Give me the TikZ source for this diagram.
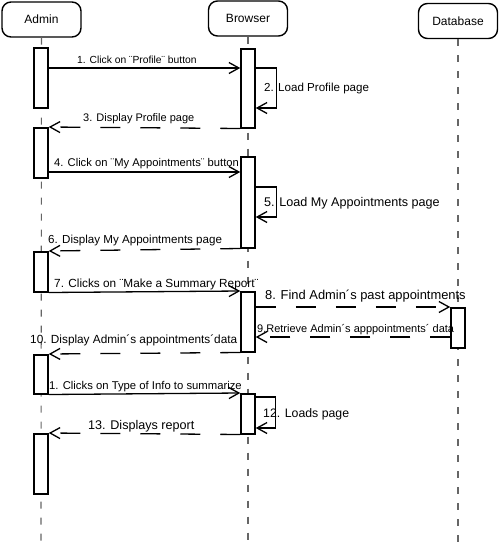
\documentclass[tikz,border=0pt]{standalone}
\usepackage{fontspec}
\setmainfont{Liberation Sans}
\usetikzlibrary{arrows.meta}
\newcommand\fsz[1]{\fontsize{#1}{#1}\selectfont}
\begin{document}
\begin{tikzpicture}[x=1pt,y=-1pt,
  actor/.style={draw, line width=1.4pt, rounded corners=9pt, minimum width=79pt, minimum height=35pt, inner sep=0pt, font=\fsz{12}},
  life/.style={draw=black!60, line width=1.1pt, dash pattern=on 7pt off 9pt},
  act/.style={draw, line width=1.5pt, fill=white, minimum width=14pt, inner sep=0pt, anchor=north},
  msg/.style={line width=1.3pt, -{Straight Barb[length=10pt,width=11pt,line width=1.3pt]}},
  ret/.style={msg, dash pattern=on 20pt off 20pt},
  lbl/.style={anchor=base west, inner sep=0pt}]
\useasboundingbox (0,0) rectangle (500,557);
% actors
\node[actor] (admin) at (41.5,19.5) {Admin};
\node[actor] (browser) at (248,18.5) {Browser};
\node[actor] (db) at (458,21) {Database};
% lifelines
\coordinate (adminEnd) at (41,549);
\coordinate (browserEnd) at (248,546);
\coordinate (dbEnd) at (458,543);
\draw[life] (admin.south) -- (adminEnd);
\draw[life] (browser.south) -- (browserEnd);
\draw[life] (db.south) -- (dbEnd);
% activations
\node[act, minimum height=60pt] (a1) at (41,47) {};
\node[act, minimum height=50pt] (a2) at (41,127) {};
\node[act, minimum height=40pt] (a3) at (41,251) {};
\node[act, minimum height=39pt] (a4) at (41,354) {};
\node[act, minimum height=60pt] (a5) at (41,433) {};
\node[act, minimum height=79pt] (b1) at (248,48) {};
\node[act, minimum height=91pt] (b2) at (248,156) {};
\node[act, minimum height=60pt] (b3) at (248,291) {};
\node[act, minimum height=40pt] (b4) at (248,393) {};
\node[act, minimum height=40pt] (d1) at (458,307) {};
% messages
\draw[msg] (a1.east |- 0,68) -- (b1.west |- 0,68);
\node[lbl, font=\fsz{10.3}] (l1) at (77,63) {1. Click on ¨Profile¨ button};
\draw[msg] (b1.east |- 0,68) -- ++(21,0) -- ++(0,40) -- (b1.east |- 0,108);
\node[lbl, font=\fsz{11.6}] (l2) at (264,91) {2. Load Profile page};
\draw[ret] (b1.south west) -- (a2.north east);
\node[lbl, font=\fsz{11}] (l3) at (83,121) {3. Display Profile page};
\draw[msg] (a2.east |- 0,172) -- (b2.west |- 0,172);
\node[lbl, font=\fsz{11.2}] (l4) at (54,166) {4. Click on ¨My Appointments¨ button};
\draw[msg] (b2.east |- 0,187) -- ++(21,0) -- ++(0,30) -- (b2.east |- 0,217);
\node[lbl, font=\fsz{12.6}] (l5) at (264,206) {5. Load My Appointments page};
\draw[ret] (b2.south west) -- (a3.north east);
\node[lbl, font=\fsz{11.6}] (l6) at (48,243) {6. Display My Appointments page};
\draw[msg] (a3.south east) -- (b3.north west);
\node[lbl, font=\fsz{11.8}] (l7) at (54,287) {7. Clicks on ¨Make a Summary Report¨};
\draw[ret] (b3.east |- 0,307) -- (d1.north west);
\node[lbl, font=\fsz{12.9}] (l8) at (265,299) {8. Find Admin´s past appointments};
\draw[ret] (d1.west |- 0,337) -- (b3.east |- 0,337);
\node[lbl, font=\fsz{11}] (l9) at (257,332) {9.Retrieve Admin´s apppointments´ data};
\draw[ret] (b3.south west) -- (a4.north east);
\node[lbl, font=\fsz{11.8}] (l10) at (30,343) {10. Display Admin´s appointments´data};
\draw[msg] (a4.south east) -- (b4.north west);
\node[lbl, font=\fsz{11.3}] (l11) at (49,389) {1. Clicks on Type of Info to summarize};
\draw[msg] (b4.east |- 0,397) -- ++(20,0) -- ++(0,31) -- (b4.east |- 0,428);
\node[lbl, font=\fsz{12.3}] (l12) at (263,417) {12. Loads page};
\draw[ret] (b4.south west) -- (a5.north east);
\node[lbl, font=\fsz{12.6}] (l13) at (88,429) {13. Displays report};
\end{tikzpicture}
\end{document}
